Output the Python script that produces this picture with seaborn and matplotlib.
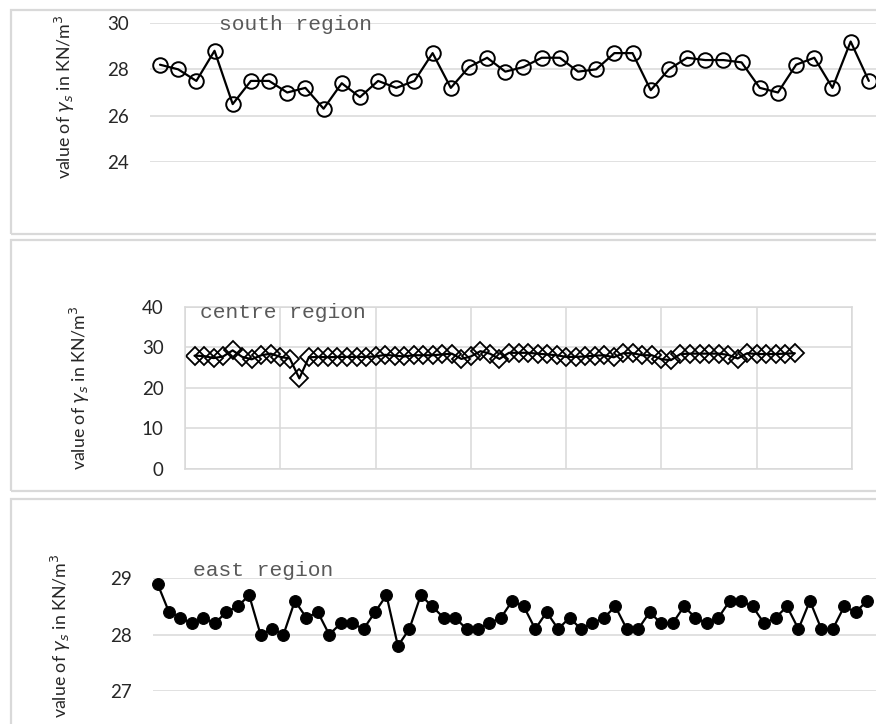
import numpy as np
import pandas as pd
import matplotlib.pyplot as plt
import seaborn as sns
from matplotlib.patches import Rectangle

# unit weight readings per sample, three regions
south = [28.2, 28.0, 27.5, 28.8, 26.5, 27.5, 27.5, 27.0, 27.2, 26.3,
         27.4, 26.8, 27.5, 27.2, 27.5, 28.7, 27.2, 28.1, 28.5, 27.9,
         28.1, 28.5, 28.5, 27.9, 28.0, 28.7, 28.7, 27.1, 28.0, 28.5,
         28.4, 28.4, 28.3, 27.2, 27.0, 28.2, 28.5, 27.2, 29.2, 27.5]
centre = [27.9, 27.8, 27.3, 27.7, 29.2, 27.6, 27.0, 28.0, 28.4, 27.6,
          27.2, 22.3, 27.5, 27.6, 27.5, 27.6, 27.6, 27.6, 27.6, 27.7,
          28.1, 27.9, 27.7, 28.0, 28.0, 28.0, 28.2, 28.4, 27.1, 27.7,
          29.0, 28.4, 27.1, 28.6, 28.6, 28.6, 28.4, 28.2, 28.0, 27.6,
          27.6, 27.7, 27.9, 28.0, 27.5, 28.5, 28.5, 28.0, 28.0, 27.0,
          26.8, 28.3, 28.4, 28.4, 28.4, 28.4, 28.1, 27.2, 28.5, 28.3,
          28.3, 28.3, 28.4, 28.5]
east = [28.9, 28.4, 28.3, 28.2, 28.3, 28.2, 28.4, 28.5, 28.7, 28.0,
        28.1, 28.0, 28.6, 28.3, 28.4, 28.0, 28.2, 28.2, 28.1, 28.4,
        28.7, 27.8, 28.1, 28.7, 28.5, 28.3, 28.3, 28.1, 28.1, 28.2,
        28.3, 28.6, 28.5, 28.1, 28.4, 28.1, 28.3, 28.1, 28.2, 28.3,
        28.5, 28.1, 28.1, 28.4, 28.2, 28.2, 28.5, 28.3, 28.2, 28.3,
        28.6, 28.6, 28.5, 28.2, 28.3, 28.5, 28.1, 28.6, 28.1, 28.1,
        28.5, 28.4, 28.6]

south_ticks = [24, 26, 28, 30]
centre_ticks = [0, 10, 20, 30, 40]
east_ticks = [27, 28, 29]
ylabel = "value of $\\gamma_s$ in KN/m$^3$"

sns.set_style("white")
plt.rcParams['font.family'] = ['Lato', 'DejaVu Sans']

W, H = 876, 724
fig = plt.figure(figsize=(W / 100, H / 100), dpi=100)
GRID = '#d9d9d9'
TXT = '#262626'


def px_axes(l, t, r, b):
    return fig.add_axes([l / W, 1 - b / H, (r - l) / W, (b - t) / H])


# panel frames
for top, bot in [(10, 234), (240, 491), (499, 780)]:
    fig.patches.append(Rectangle((11 / W, 1 - bot / H), 1.2, (bot - top) / H,
                                 transform=fig.transFigure, fill=False,
                                 ec=GRID, lw=1.6))


def style(ax, yticks, ylim):
    ax.set_ylim(*ylim)
    ax.set_yticks(yticks)
    ax.set_xlabel("")
    ax.set_ylabel("")
    ax.tick_params(axis='both', length=0, pad=15.5, labelsize=13.5, labelcolor=TXT)
    ax.grid(axis='y', color=GRID, lw=1.1)
    ax.set_axisbelow(True)


# south
ax1 = px_axes(150, 23, 887, 162)
sns.lineplot(x=np.arange(1, len(south) + 1), y=south, ax=ax1, color='black',
             lw=1.6, marker='o', markersize=10.5, markerfacecolor='none',
             markeredgecolor='black', markeredgewidth=1.4, clip_on=False)
ax1.set_xlim(0.45, 41)
style(ax1, south_ticks, (24, 30))
ax1.set_xticks([])
sns.despine(ax=ax1, left=True, bottom=True)

# centre
ax2 = px_axes(185, 306.5, 852, 469)
sns.lineplot(x=np.arange(1, len(centre) + 1), y=centre, ax=ax2, color='black',
             lw=1.6, marker='D', markersize=9, markerfacecolor='none',
             markeredgecolor='black', markeredgewidth=1.3, clip_on=False)
ax2.set_xlim(0, 70)
style(ax2, centre_ticks, (0, 40))
ax2.set_xticks(range(0, 71, 10))
ax2.set_xticklabels([])
ax2.grid(axis='x', color=GRID, lw=1.1)
for s in ax2.spines.values():
    s.set_color(GRID)
    s.set_linewidth(1.1)

# east
ax3 = px_axes(153, 578.3, 890, 691)
sns.lineplot(x=np.arange(1, len(east) + 1), y=east, ax=ax3, color='black',
             lw=1.6, marker='o', markersize=8.5, markerfacecolor='black',
             markeredgecolor='black', clip_on=False)
ax3.set_xlim(0.6, 65)
style(ax3, east_ticks, (27, 29))
ax3.set_xticks([])
sns.despine(ax=ax3, left=True, bottom=True)

# region titles
for x, y, t in [(219, 24, "south region"), (200, 313, "centre region"),
                (193, 571, "east region")]:
    fig.text(x / W, 1 - y / H, t, family='Liberation Mono', fontsize=15.3,
             color='#595959', ha='left', va='center')

# y labels
for x, y in [(65, 97), (80, 388), (61, 636)]:
    fig.text(x / W, 1 - y / H, ylabel, rotation=90, fontsize=12.8,
             color=TXT, ha='center', va='center')

fig.savefig("out.png", dpi=100)
